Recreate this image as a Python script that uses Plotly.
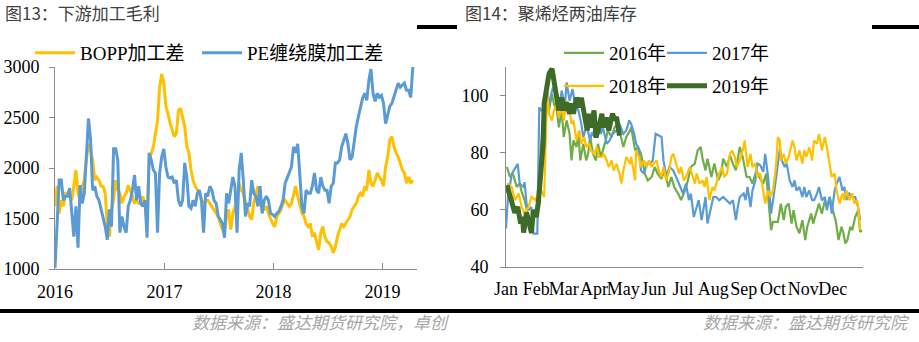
import plotly.graph_objects as go
import pandas as pd

# ---------------- left chart: 下游加工毛利 (weekly, from 2016-01-01) ----------------
bopp = [1620,1820,1550,1680,1620,1750,1750,1720,1680,1820,
        1980,1750,1680,1820,1880,2080,2240,2180,2080,1880,
        1910,1880,1820,1820,1750,1420,1320,1590,1680,1880,
        1780,1750,1650,1720,1750,1830,1780,1720,1650,1680,
        1650,1650,1720,1620,1520,2080,2150,2210,2340,2470,
        2800,2930,2840,2610,2540,2440,2380,2310,2340,2570,
        2590,2510,2410,2210,2150,1980,1880,1820,1780,1750,
        1680,1650,1680,1680,1650,1620,1590,1550,1520,1450,
        1390,1360,1520,1590,
        1390,1550,1620,1680,1850,1780,1750,1680,1590,1520,
        1490,1650,1750,1820,1650,1590,1590,1620,1550,1490,
        1450,1420,1520,1550,1590,1650,1680,1650,1620,1650,
        1750,1820,1720,1620,1550,1520,1450,1420,1450,1320,
        1360,1270,1190,1360,1420,1320,1270,1260,1220,1160,
        1220,1320,1390,1450,1420,1450,1490,1520,1590,1620,
        1650,1720,1750,1720,1820,1780,1980,1850,1820,1880,
        1950,1910,1880,1820,2010,2110,2280,2310,2210,2150,
        2110,2050,1980,1950,1850,1910,1850,1880]
pe = [1010,1420,1880,1880,1680,1720,1720,1800,1590,1320,
      1620,1210,1830,1650,1750,2080,2490,2280,1780,1820,
      1720,1680,1590,1520,1420,1290,1590,1420,2190,2190,
      2080,1360,1520,1420,1360,1620,1680,1780,1930,1680,
      1820,1650,1620,1680,1310,2150,2080,1980,1950,1360,
      1950,2110,2190,2010,1910,1900,1910,1850,1880,1680,
      1620,1680,2050,1910,1620,1600,1680,1620,1750,1780,
      1680,1360,1750,1720,1820,1780,1680,1650,1520,1490,
      1450,1310,1750,1650,
      1780,1910,1820,1360,1980,2150,1880,1520,1650,1620,
      1880,1750,1720,1620,1820,1550,1680,1720,1680,1550,
      1540,1520,1550,1570,1620,1680,1850,1910,1950,2010,
      2210,2150,2240,1910,1620,1550,1780,1750,1750,1820,
      1950,1780,1750,1910,1820,1780,1780,1650,1820,1850,
      2050,2050,2080,2210,2280,2340,2240,2080,2110,2280,
      2410,2510,2610,2690,2740,2670,2870,2980,2740,2660,
      2740,2700,2720,2640,2440,2540,2610,2640,2700,2770,
      2840,2800,2820,2840,2770,2770,2700,3000]
weeks = pd.date_range("2016-01-01", periods=len(pe), freq="7D")
year_ticks = ["2016-01-01", "2017-01-01", "2018-01-01", "2019-01-01"]
year_labels = ["2016", "2017", "2018", "2019"]

# ---------------- right chart: 聚烯烃两油库存 (day of year) ----------------
d2016 = [1,4,7,11,14,16,19,23,25,28,31,33,35,37,40,42,44,47,49,52,
         54,57,59,62,65,67,69,72,74,76,79,82,84,86,89,92,94,97,99,102,
         104,108,111,114,116,120,123,127,128,132,135,138,142,145,149,152,155,159,162,166,
         169,172,176,179,183,186,189,193,196,199,201,204,206,210,213,217,220,222,226,229,
         232,235,239,242,246,249,252,256,259,263,266,269,271,273,278,281,284,286,289,292,
         294,297,300,303,306,308,312,314,317,320,323,326,328,331,334,337,340,343,345,347,
         349,352,354,357,360,362,364]
v2016 = [75.0,71.5,72.7,68.0,69.2,66.3,63.4,57.5,51.7,57.5,
         61.0,65.7,77.3,88.9,98.3,101.7,94.8,100.6,97.1,94.8,
         88.9,94.8,85.5,91.3,86.6,77.3,84.3,82.0,86.6,77.3,
         83.1,77.3,79.6,85.5,79.6,77.3,83.1,78.5,80.8,84.3,
         87.8,85.5,88.9,90.1,87.8,82.0,85.5,87.8,89.0,80.8,
         82.0,79.6,72.7,70.3,71.5,75.0,72.7,70.9,73.8,68.0,
         71.5,68.0,65.7,63.4,66.8,70.3,75.0,76.2,80.8,82.0,
         77.9,73.8,77.9,71.5,76.2,70.3,72.7,77.9,75.0,79.1,
         76.2,73.8,82.0,78.5,71.5,71.5,69.2,73.8,71.5,69.2,
         72.7,62.2,52.9,55.8,55.8,62.2,56.4,61.0,62.2,55.2,
         59.9,54.1,51.8,56.4,49.4,54.1,58.7,55.2,58.7,62.2,
         58.7,63.4,61.0,64.5,59.9,56.4,49.4,54.1,51.8,48.2,
         49.4,54.1,52.9,57.5,59.9,52.3,52.9]
d2017 = [0,2,6,9,12,14,18,19,21,23,26,28,32,34,36,40,43,48,52,55,
         57,60,62,65,68,70,74,77,79,81,83,86,88,91,94,97,99,103,106,109,
         113,116,120,123,126,128,131,133,135,137,138,141,144,147,150,153,159,161,164,167,
         171,174,178,181,184,187,189,192,195,197,200,202,204,206,209,212,215,218,222,225,
         229,232,235,237,239,243,245,247,250,252,255,257,260,263,265,268,270,271,274,278,
         280,282,285,287,290,293,295,297,300,303,305,307,310,313,315,318,320,323,326,328,
         331,333,336,338,341,344,346,348,351,354,357,360,362]
v2017 = [53.5,64.5,72.7,74.4,76.1,69.2,68.0,69.7,62.2,59.9,
         61.0,51.7,51.7,95.9,94.8,94.2,95.9,102.9,100.6,97.1,
         101.7,95.9,104.6,98.2,102.3,98.2,94.8,90.1,85.4,87.8,
         88.9,84.3,87.2,85.4,89.5,86.6,88.9,83.1,84.3,86.6,
         87.8,90.1,86.6,87.8,91.3,90.1,86.6,83.1,82.0,77.3,
         73.8,72.7,76.2,76.2,77.3,86.6,85.5,77.3,71.5,75.0,
         73.8,71.5,68.0,65.7,69.2,63.4,65.7,57.5,61.0,63.4,
         56.4,61.0,64.5,55.2,59.9,64.5,64.5,63.4,64.5,63.4,
         62.2,63.4,56.4,61.0,64.5,65.7,63.4,68.0,61.0,66.8,
         70.3,76.2,75.6,73.3,79.6,71.5,62.2,58.7,65.7,75.0,
         81.4,77.3,75.0,76.2,70.3,68.0,70.3,66.8,68.0,64.5,
         68.0,64.5,66.8,63.4,63.4,65.7,68.0,63.4,64.5,59.9,
         64.5,58.7,66.8,69.2,71.5,66.8,68.0,63.4,65.7,64.5,
         64.5,61.0,56.4]
d2018 = [0,2,6,9,13,16,19,23,26,30,33,36,39,42,44,47,49,52,54,57,
         59,62,65,67,69,72,75,77,80,82,85,87,90,93,95,98,100,103,105,108,
         110,113,116,118,120,123,127,128,132,133,136,138,141,144,146,149,151,154,156,159,
         161,164,167,169,171,174,177,179,182,184,188,191,193,195,198,201,203,205,208,211,
         213,216,218,221,223,226,229,231,234,236,239,242,244,247,250,252,255,257,260,263,
         265,268,270,273,276,278,280,281,284,286,289,293,295,297,300,303,305,307,310,313,
         315,318,320,323,326,328,331,333,336,338,341,344,346,348,351,354,356,359,361,362]
v2018 = [65.7,69.2,68.0,63.4,65.7,61.0,58.7,61.0,64.5,63.4,
         65.7,66.8,64.5,100.6,93.6,91.3,94.8,97.1,92.4,95.9,
         91.3,98.2,94.8,90.1,91.3,84.3,87.8,83.1,85.4,82.0,
         83.1,80.8,79.6,82.0,78.5,78.5,79.6,77.3,75.0,77.3,
         73.8,76.1,72.7,69.2,73.8,78.5,76.1,78.5,70.3,80.8,
         78.5,75.0,77.3,75.0,77.3,75.0,76.2,77.3,73.8,71.5,
         75.0,70.3,73.8,78.5,79.6,76.2,72.7,75.0,70.3,71.5,
         75.0,71.5,69.2,72.7,69.2,70.3,68.0,71.5,63.4,68.0,
         66.8,70.3,72.7,75.0,71.5,72.7,79.6,80.8,78.5,75.0,
         77.3,80.8,84.3,75.0,79.6,75.0,76.2,71.5,72.7,66.8,
         62.2,66.8,64.5,66.8,75.0,85.5,84.3,77.3,79.6,76.2,
         78.5,84.3,81.9,77.3,80.8,76.2,80.8,78.5,81.9,77.3,
         84.3,83.1,86.6,80.8,85.5,81.9,76.2,71.5,72.7,66.8,
         62.2,65.7,63.4,66.8,63.4,65.7,62.2,63.4,57.5,52.9]
d2019 = [1,6,9,12,15,17,18,21,24,26,28,31,33,35,38,39,42,44,47,49,
         52,54,57,59,62,65,67,69,72,75,77,80,83,85,87,90,92,95,98,100,
         103,105,109,111,113,116]
v2019 = [68.6,63.4,59.0,61.0,55.2,57.5,52.0,59.0,55.0,52.0,
         60.0,57.5,62.2,71.4,83.2,97.2,105.2,107.7,109.4,105.0,
         98.3,94.8,99.3,94.8,97.6,93.6,97.2,93.6,99.3,95.9,
         99.3,93.6,87.8,93.6,88.8,94.8,85.3,88.9,93.6,88.9,
         92.3,87.8,93.7,91.3,92.5,86.0]
month_days = [0,31,59,90,120,151,181,212,243,273,304,334]
month_labels = ["Jan","Feb","Mar","Apr","May","Jun","Jul","Aug","Sep","Oct","Nov","Dec"]

W, H = 919, 342
def px(x): return x / W
def py(y): return 1 - y / H

SERIF = "Liberation Serif, Times New Roman, Noto Sans CJK SC, serif"
CJK = "Noto Sans CJK SC, sans-serif"
AXC = "#8c8c8c"

fig = go.Figure()
series = [
    (weeks, bopp, "BOPP加工差", "#FFC000", 3, "x", "y", "legend"),
    (weeks, pe, "PE缠绕膜加工差", "#5B9BD5", 3, "x", "y", "legend2"),
    (d2016, v2016, "2016年", "#70AD47", 2.2, "x2", "y2", "legend3"),
    (d2017, v2017, "2017年", "#5B9BD5", 2.2, "x2", "y2", "legend4"),
    (d2018, v2018, "2018年", "#FFC000", 2.2, "x2", "y2", "legend5"),
    (d2019, v2019, "2019年", "#3E6B27", 5, "x2", "y2", "legend6"),
]
for xs, ys, name, color, width, xa, ya, lg in series:
    fig.add_trace(go.Scatter(x=xs, y=ys, name=name, mode="lines",
                             line=dict(color=color, width=width),
                             xaxis=xa, yaxis=ya, legend=lg))

tickfont = dict(family=SERIF, size=18, color="#000000")
legfont = dict(family=SERIF, size=19, color="#000000")

def leg(x_line, y_center):
    return dict(orientation="h", x=px(x_line - 8), y=py(y_center),
                xanchor="left", yanchor="middle", font=legfont,
                bgcolor="rgba(0,0,0,0)", itemwidth=40)

fig.update_layout(
    width=W, height=H, autosize=False,
    margin=dict(l=0, r=0, t=0, b=0, pad=0, autoexpand=False),
    paper_bgcolor="white", plot_bgcolor="white",
    xaxis=dict(domain=[px(55), px(417)], type="date",
               range=["2016-01-01", "2019-04-26"],
               tickmode="array", tickvals=year_ticks, ticktext=year_labels,
               ticks="inside", ticklen=6, tickcolor=AXC, tickangle=0,
               showline=True, linecolor=AXC, linewidth=1,
               showgrid=False, zeroline=False, tickfont=tickfont,
               ticklabelstandoff=6, anchor="y", automargin=False),
    yaxis=dict(domain=[py(269), py(67)], range=[1000, 3000],
               tickmode="array", tickvals=[1000, 1500, 2000, 2500, 3000],
               ticks="outside", ticklen=5, tickcolor=AXC,
               showline=True, linecolor=AXC, linewidth=1,
               showgrid=False, zeroline=False, tickfont=tickfont,
               ticklabelstandoff=6, anchor="x", automargin=False),
    xaxis2=dict(domain=[px(506), px(863)], range=[0, 365],
                tickmode="array", tickvals=month_days, ticktext=month_labels,
                ticks="", tickangle=0,
                showline=True, linecolor=AXC, linewidth=1,
                showgrid=False, zeroline=False, tickfont=tickfont,
                ticklabelstandoff=5, anchor="y2", automargin=False),
    yaxis2=dict(domain=[py(267), py(67)], range=[40, 110],
                tickmode="array", tickvals=[40, 60, 80, 100],
                ticks="outside", ticklen=5, tickcolor=AXC,
                showline=True, linecolor=AXC, linewidth=1,
                showgrid=False, zeroline=False, tickfont=tickfont,
                ticklabelstandoff=8, anchor="x2", automargin=False),
    legend=leg(38, 53),
    legend2=leg(205, 53),
    legend3=leg(567, 53),
    legend4=leg(670, 53),
    legend5=leg(567, 86),
    legend6=leg(670, 86),
    showlegend=True,
)

annots = [
    dict(text="图13：下游加工毛利", x=px(3), y=py(12), xanchor="left", yanchor="middle",
         font=dict(family=CJK, size=17, color="#404040")),
    dict(text="图14：聚烯烃两油库存", x=px(463), y=py(12), xanchor="left", yanchor="middle",
         font=dict(family=CJK, size=17, color="#404040")),
    dict(text="数据来源：盛达期货研究院，卓创", x=px(452), y=py(321), xanchor="right", yanchor="middle",
         font=dict(family=CJK, size=17, color="#A6A6A6", style="italic")),
    dict(text="数据来源：盛达期货研究院", x=px(912), y=py(321), xanchor="right", yanchor="middle",
         font=dict(family=CJK, size=17, color="#A6A6A6", style="italic")),
]
for a in annots:
    a.update(xref="paper", yref="paper", showarrow=False)
fig.update_layout(annotations=annots)

shapes = [
    dict(type="rect", x0=px(417), x1=px(457), y0=py(29), y1=py(25)),
    dict(type="rect", x0=px(872), x1=1, y0=py(29), y1=py(25)),
    dict(type="rect", x0=0, x1=1, y0=py(313), y1=py(309)),
]
for s in shapes:
    s.update(xref="paper", yref="paper", fillcolor="black", line=dict(width=0), layer="above")
fig.update_layout(shapes=shapes)

fig.write_html("out.html")
